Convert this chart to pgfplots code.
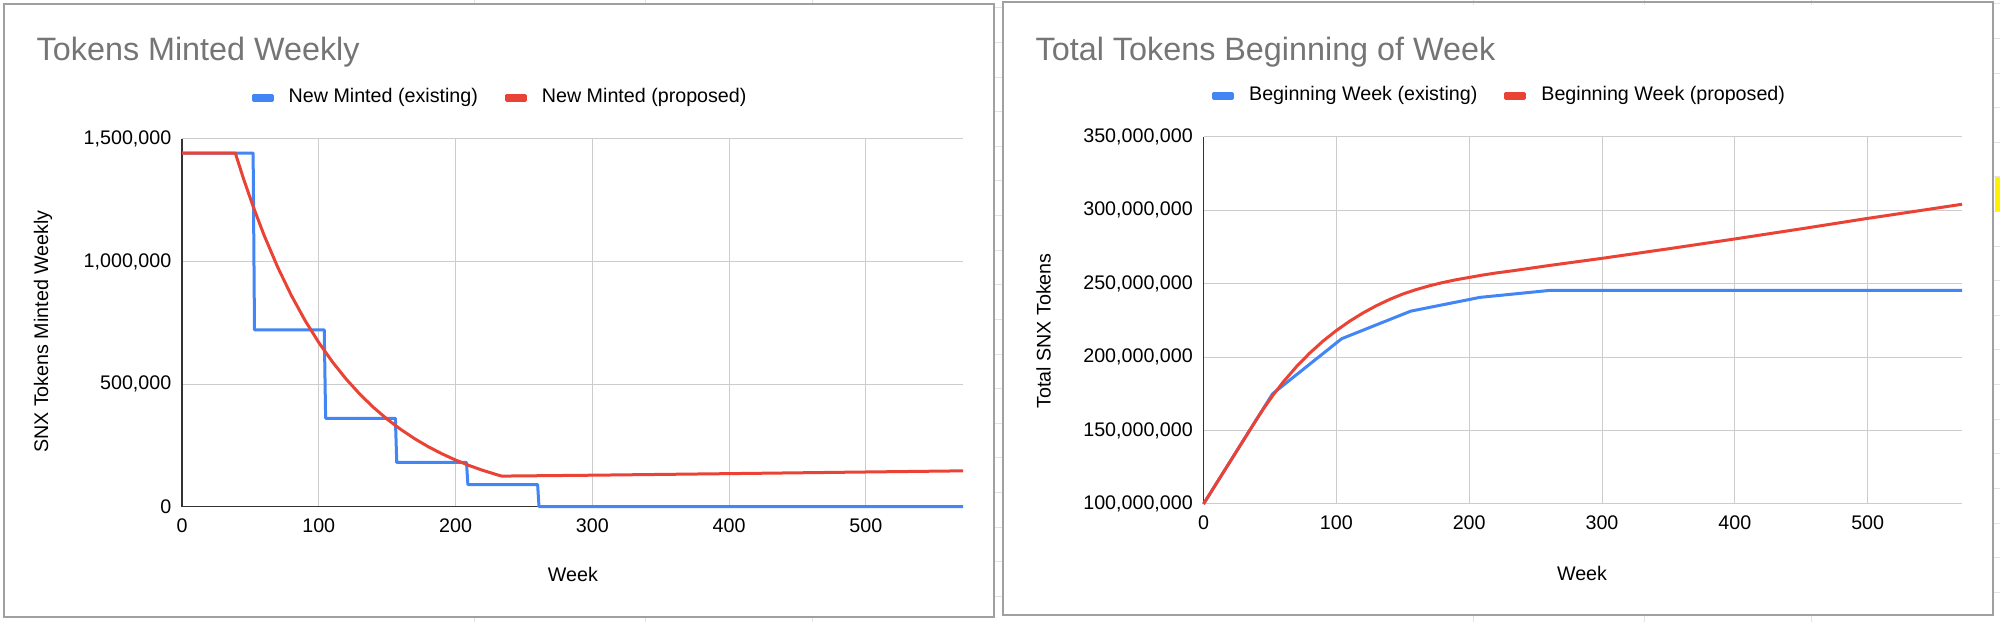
\documentclass[border=0pt]{standalone}
\usepackage{fontspec}
\setmainfont{Liberation Sans}
\usepackage{pgfplots}
\pgfplotsset{compat=1.18}
\definecolor{gblue}{HTML}{4285F4}
\definecolor{gred}{HTML}{EA4335}
\definecolor{gridc}{HTML}{CCCCCC}
\definecolor{titlec}{HTML}{757575}
\definecolor{borderc}{HTML}{A0A0A0}
\definecolor{sheetc}{HTML}{E3E3E3}
\definecolor{axisc}{HTML}{333333}
\newcommand{\sm}{\fontsize{5.6}{6.7}\selectfont}
\newcommand{\ttl}{\fontsize{9.2}{11}\selectfont}

\pgfplotsset{
 gchart/.style={
  scale only axis,
  anchor=south west,
  clip=false,
  xmin=0, xmax=571,
  xtick={0,100,200,300,400,500},
  grid=major,
  major grid style={gridc, line width=0.1mm},
  major tick length=0pt,
  axis x line*=bottom, axis y line*=left,
  axis line style={axisc, line width=0.13mm, -},
  tick label style={font=\sm, text=black},
  /pgf/number format/assume math mode=true,
  yticklabel style={anchor=east, inner sep=0pt, xshift=-1mm, /pgf/number format/fixed, /pgf/number format/1000 sep={,}},
  xticklabel style={anchor=north, inner sep=0pt, yshift=-1.15mm},
  scaled y ticks=false,
  legend columns=2,
  legend image code/.code={\fill[##1] (0mm,-0.25mm) rectangle (1.9mm,0.25mm);},
  legend style={draw=none, fill=none, inner sep=0pt, outer sep=0pt, font=\sm, anchor=center,
    nodes={inner sep=0pt},
    /tikz/every odd column/.style={column sep=1.5mm},
    /tikz/every even column/.style={column sep=2.7mm}},
  every axis plot/.append style={line width=0.3mm, line join=round},
 }
}

\pgfplotstableread{
w v
0 1442308
52 1442308
53 721154
104 721154
105 360577
156 360577
157 180288
208 180288
209 90144
260 90144
261 0
571 0
}\mintexisting

\pgfplotstableread{
w v
0 1442308
39 1442308
45 1337470
52 1224800
60 1107460
70 976600
80 861190
90 759410
100 669650
110 590480
120 520670
130 459140
140 404870
150 357010
160 314820
170 277620
180 244800
190 215870
200 190360
210 167860
220 148020
233 125680
234 124800
300 128400
400 134800
500 141500
571 146200
}\mintproposed

\pgfplotstableread{
w v
0 100000000
52 175000000
104 212500000
156 231250000
208 240625000
260 245312500
571 245312500
}\totalexisting

\pgfplotstableread{
w v
0 100000000
39 156250000
45 164640000
52 173660000
60 183040000
70 193510000
80 202740000
90 210880000
100 218060000
110 224400000
120 229980000
130 234900000
140 239200000
150 242900000
160 245900000
170 248500000
180 250700000
190 252600000
200 254200000
210 255800000
220 257200000
234 258900000
260 262300000
300 267200000
350 273700000
400 280400000
450 287300000
500 294400000
535 299100000
571 304000000
}\totalproposed

\begin{document}
\begin{tikzpicture}
\path[use as bounding box] (0,0) rectangle (200mm,62.2mm);

% faint spreadsheet cell lines around the chart panels
\foreach \x in {47.4,64.5,81.2,147.3,164.4,181.1} {
  \draw[sheetc, line width=0.1mm] (\x mm,0mm) -- (\x mm,0.6mm);
  \draw[sheetc, line width=0.1mm] (\x mm,61.7mm) -- (\x mm,62.2mm);
}
\foreach \k in {0,...,17} {
  \pgfmathsetmacro\yy{62.2-0.1*(8+34.6*\k)}
  \draw[sheetc, line width=0.1mm] (99.5mm,\yy mm) -- (100.2mm,\yy mm);
  \pgfmathsetmacro\yz{62.2-0.1*(4+34.6*\k)}
  \draw[sheetc, line width=0.1mm] (199.4mm,\yz mm) -- (200mm,\yz mm);
}
\fill[yellow] (199.5mm,41.05mm) rectangle (200mm,44.54mm);

% panel borders
\draw[borderc, line width=0.2mm] (0.45mm,0.5mm) rectangle (99.4mm,61.8mm);
\draw[borderc, line width=0.2mm] (100.27mm,0.7mm) rectangle (199.3mm,62.0mm);

% titles
\node[anchor=base west, inner sep=0pt, font=\ttl, text=titlec] at (3.6mm,56.1mm) {Tokens Minted Weekly};
\node[anchor=base west, inner sep=0pt, font=\ttl, text=titlec] at (103.5mm,56.17mm) {Total Tokens Beginning of Week};

% left chart
\begin{axis}[gchart,
  at={(18.2mm,11.53mm)}, width=78.1mm, height=36.77mm,
  ymin=0, ymax=1500000,
  ytick={0,500000,1000000,1500000},
  xlabel={Week}, ylabel={SNX Tokens Minted Weekly},
  every axis x label/.style={at={(axis description cs:0.5006,-0.1847)}, anchor=center, font=\sm, text=black},
  every axis y label/.style={at={(axis description cs:-0.178,0.4762)}, rotate=90, anchor=center, font=\sm, text=black},
  legend style={at={(axis description cs:0.406,1.1126)}},
]
\addplot[gblue] table[x=w,y=v] {\mintexisting};
\addplot[gred] table[x=w,y=v] {\mintproposed};
\legend{New Minted (existing), New Minted (proposed)}
\end{axis}

% right chart
\begin{axis}[gchart,
  at={(120.35mm,11.8mm)}, width=75.85mm, height=36.73mm,
  ymin=100000000, ymax=350000000,
  ytick={100000000,150000000,200000000,250000000,300000000,350000000},
  x axis line style={gridc, line width=0.1mm},
  xlabel={Week}, ylabel={Total SNX Tokens},
  every axis x label/.style={at={(axis description cs:0.499,-0.1879)}, anchor=center, font=\sm, text=black},
  every axis y label/.style={at={(axis description cs:-0.211,0.471)}, rotate=90, anchor=center, font=\sm, text=black},
  legend style={at={(axis description cs:0.389,1.1097)}},
]
\addplot[gblue] table[x=w,y=v] {\totalexisting};
\addplot[gred] table[x=w,y=v] {\totalproposed};
\legend{Beginning Week (existing), Beginning Week (proposed)}
\end{axis}
\end{tikzpicture}
\end{document}
